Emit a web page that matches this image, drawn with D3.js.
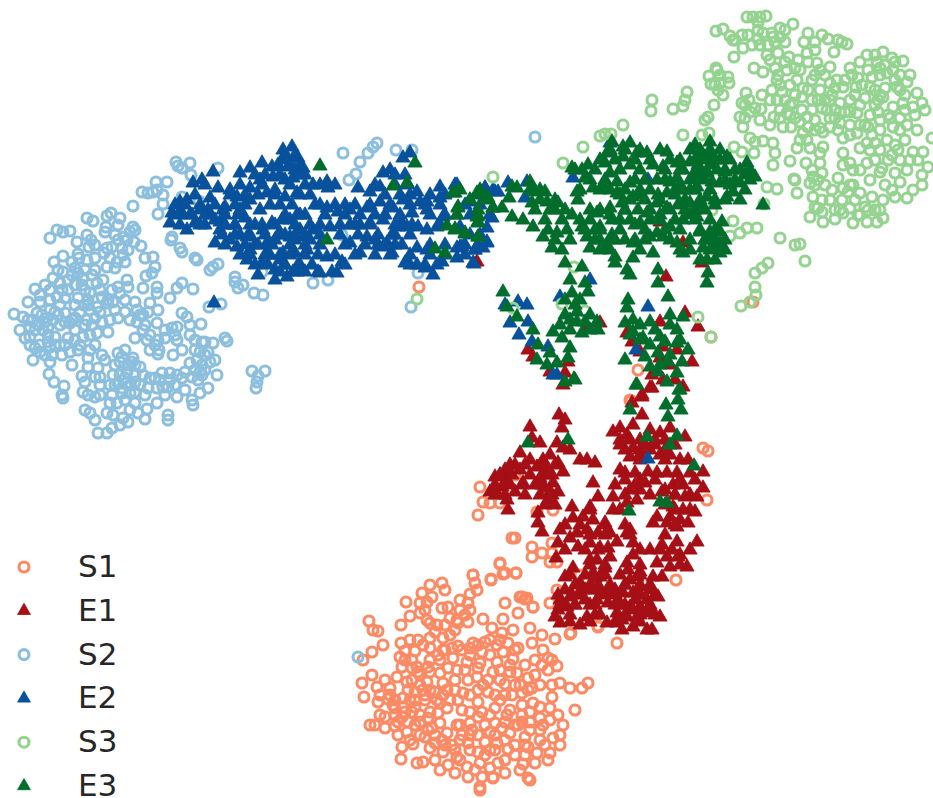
<!DOCTYPE html>
<html>
<head>
<meta charset="utf-8">
<script src="https://cdn.jsdelivr.net/npm/d3@7"></script>
<style>
  html, body { margin: 0; padding: 0; background: #fff; }
  svg { display: block; }
  text { font-family: "DejaVu Sans", sans-serif; }
</style>
</head>
<body>
<div id="main"></div>
<script>
// embedding positions
const s1 = [[473,575],[475,583],[477,590],[491,580],[500,564],[503,574],[516,573],[470,594],[468,603],[460,610],[445,590],[442,583],[430,585],[422,593],[427,602],[420,603],[406,602],[410,616],[401,625],[420,613],[427,620],[430,623],[442,608],[448,607],[450,618],[457,620],[468,622],[458,623],[483,619],[435,632],[430,638],[443,638],[450,635],[455,630],[369,621],[373,630],[378,631],[383,645],[372,652],[363,660],[401,643],[405,651],[415,651],[400,657],[423,645],[430,648],[438,655],[458,646],[473,643],[485,642],[497,645],[508,643],[518,648],[492,628],[502,633],[513,630],[530,628],[542,635],[555,639],[520,597],[525,599],[533,607],[518,613],[505,603],[503,619],[550,603],[570,634],[598,627],
[372,675],[362,683],[364,697],[377,687],[378,702],[390,688],[388,699],[397,677],[402,667],[407,682],[417,667],[428,667],[440,660],[453,658],[467,662],[480,663],[497,662],[513,659],[535,660],[548,658],[557,666],[543,650],[532,643],[517,673],[493,672],[477,677],[457,670],[440,673],[427,682],[415,692],[403,698],[455,680],[443,683],[435,692],[443,695],[463,693],[478,702],[488,692],[505,684],[528,678],[532,688],[548,670],[552,685],[560,683],[570,688],[582,688],[588,683],[552,697],[540,707],[522,693],[512,695],[495,708],[507,715],[522,705],[533,703],[550,708],[558,715],[575,710],[563,725],[543,725],[530,722],[522,715],[495,723],[478,717],[470,723],[460,725],[462,710],[447,708],[438,713],[440,723],[428,718],[415,707],[403,707],[402,717],[415,725],[407,732],[385,717],[375,725],[385,728],[395,726],[425,737],[435,743],[413,744],[402,747],[401,759],[417,763],[423,762],[430,748],[443,752],[447,733],[457,725],[468,743],[485,742],[497,743],[495,735],[510,733],[525,737],[540,740],[553,738],[508,749],[528,747],[537,753],[550,753],[535,763],[523,764],[528,778],[505,773],[498,763],[493,777],[480,763],[478,752],[455,750],[457,757],[448,765],[455,773],[468,777],[480,787],[467,767],[482,777],[493,778],[530,780],[480,790],
[412,660],[418,672],[408,690],[423,690],[410,700],[420,715],[408,722],[432,728],[442,740],[452,745],[462,735],[472,730],[485,725],[502,728],[515,725],[530,730],[470,655],[482,652],[490,655],[503,652],[478,668],[468,680],[483,685],[495,695],[510,672],[500,680],[520,685],[448,668],[430,660],[395,708],[395,715],[425,700],[440,703],[478,735],[490,750],[505,740],[515,755],[525,755],[475,770],[490,768],[545,745],[560,735],[470,712],[458,700],[518,725],[398,735],
[405,660],[412,668],[420,675],[430,672],[412,680],[420,685],[430,690],[415,700],[425,695],[405,712],[412,712],[420,722],[430,712],[437,700],[447,690],[450,700],[445,650],[452,648],[462,650],[470,648],[478,645],[490,640],[500,640],[515,650],[525,665],[510,665],[500,670],[488,680],[478,690],[470,695],[482,712],[490,715],[500,700],[510,710],[522,722],[530,712],[540,718],[550,720],[470,735],[460,740],[445,745],[435,735],[428,730],[420,735],[410,740],[435,760],[440,770],[460,760],[470,750],[485,755],[495,750],[505,760],[515,745],[520,770],[540,730],[560,745],[548,760],[525,745],[505,722],[490,732],[455,690],[465,670],[443,650],[437,625],[445,625],[460,600],[465,615],[470,610],[425,610],[432,597],[410,640],[418,640],[385,680],[390,695],[380,695],[393,705],[380,715],[370,725],[398,722],[395,700],[552,660],[542,665],[535,675],[540,685],[528,690],[515,685],[505,695],
[480,487],[483,502],[490,503],[500,503],[478,515],[515,475],[512,538],[515,538],[532,547],[532,557],[542,553],[552,543],[552,553],[550,562],[557,562],[500,563],[505,573],[516,573],[491,579],[473,575],[522,597],[527,598],[533,607],[557,590],[537,512],[553,510],[703,448],[708,451],[707,500],[676,580],[617,643],[598,626],[571,633],[638,370],[631,401],[580,575],[753,302],[711,337],[419,287],[630,400]];

const e1 = [[559,415],[565,420],[562,428],[530,427],[532,438],[540,443],[557,443],[570,450],[563,448],[520,453],[530,460],[515,465],[505,470],[495,477],[490,492],[502,487],[507,480],[515,492],[523,483],[507,500],[508,510],[550,455],[543,460],[537,467],[545,472],[558,463],[563,472],[542,485],[553,483],[550,492],[548,500],[558,492],[580,460],[587,460],[595,463],[593,483],[598,497],[538,513],[538,523],[542,532],
[613,432],[620,428],[627,435],[633,425],[642,415],[632,403],[642,397],[652,388],[660,433],[670,428],[685,437],[670,455],[633,448],[630,457],[648,472],[657,473],[625,473],[635,473],[645,483],[615,485],[630,490],[613,497],[613,510],[627,503],[637,500],[667,473],[677,473],[688,460],[703,472],[690,473],[683,485],[673,485],[662,492],[703,488],[697,497],[683,510],[695,512],[688,523],[673,507],[657,517],[653,523],[667,523],[677,527],[670,517],
[572,507],[573,518],[590,507],[583,517],[593,520],[605,523],[587,530],[598,533],[610,533],[560,530],[558,543],[570,538],[577,533],[578,547],[590,543],[617,542],[608,548],[556,558],[573,568],[565,577],[580,583],[597,560],[605,568],[593,573],[600,577],[610,557],[627,563],[633,555],[630,530],[627,533],[633,543],[650,550],[662,545],[677,542],[697,542],[690,550],[667,557],[678,557],[657,563],[670,567],[687,567],[653,577],[662,577],
[565,590],[558,595],[570,597],[558,610],[555,617],[567,607],[580,593],[587,617],[593,590],[597,600],[560,623],[580,625],[607,593],[608,603],[607,623],[618,600],[630,580],[637,577],[640,587],[623,593],[633,593],[647,600],[658,597],[660,617],[617,613],[627,617],[637,617],[647,613],[622,630],[633,627],[647,630],[652,630],[617,623],[630,607],[640,607],
[595,578],[585,590],[575,605],[590,605],[600,590],[615,590],[625,605],[635,600],[650,610],[640,595],[620,575],[628,570],[640,572],[650,590],[600,548],[590,560],[598,585],[572,595],[585,600],[600,615],[615,605],[625,585],[560,600],[633,610],[622,620],[500,475],[510,473],[495,490],[520,470],[540,478],[552,475],[545,488],[655,445],[645,445],[640,455],[620,445],[630,440],[650,430],[675,445],[680,460],[660,455],[665,490],[675,495],[685,497],[665,505],[680,520],[665,535],[680,555],[672,550],[640,490],[620,470],[650,495],[635,485],
[510,465],[525,465],[545,465],[555,465],[500,475],[512,475],[530,475],[548,475],[495,485],[510,485],[522,485],[535,485],[495,495],[505,495],[525,495],[540,495],[552,495],[545,505],[555,505],[620,440],[640,440],[655,440],[665,440],[625,450],[640,450],[650,450],[665,450],[640,460],[665,460],[625,480],[640,480],[655,480],[680,480],[695,480],[625,495],[675,495],[690,495],[590,510],[620,510],[675,510],[690,510],[565,525],[580,525],[605,525],[625,525],[675,525],[590,535],[605,535],[630,535],[565,550],[585,550],[598,550],[640,550],[660,550],[590,565],[605,565],[640,565],[680,565],[570,575],[585,575],[605,575],[640,575],[575,585],[590,585],[610,585],[625,585],[640,585],[650,585],[578,595],[600,595],[615,595],[640,595],[655,595],[560,605],[575,605],[595,605],[620,605],[650,605],[570,615],[595,615],[625,615],[640,615],[655,615],[570,622],[590,622],[615,622],[640,622],
[660,222],[666,277],[702,263],[683,243],[477,262],[632,342],[627,333],[660,322],[685,313],[698,327],[677,350],[692,362],[663,347],[528,350],[533,357],[550,372],[565,373],[563,385],[568,362],[587,327],[600,323],[663,380],[650,388],[642,395],[683,387],[675,380],[660,358],[640,352],[670,365],[652,375]];

const s2 = [[176,162],[178,166],[182,168],[190,163],[191,175],[218,168],[156,182],[167,182],[142,192],[148,193],[153,192],[157,190],[163,195],[133,206],[163,204],[158,214],[182,197],[199,201],
[87,218],[93,221],[107,216],[111,213],[120,218],[118,225],[106,227],[105,232],[133,227],[135,230],[124,237],[115,235],[134,242],[141,246],[128,250],[87,235],[77,242],[91,240],[89,247],[50,238],[57,230],[63,232],[70,231],
[107,248],[112,247],[104,253],[122,248],[123,255],[117,262],[125,262],[107,267],[95,258],[87,260],[78,254],[79,258],[72,262],[63,256],[54,262],[172,237],[171,240],[180,248],[182,252],[195,258],[197,260],[145,258],[153,257],[155,267],[152,273],[146,276],[143,288],
[58,270],[63,272],[53,278],[45,285],[35,289],[28,302],[60,283],[72,275],[78,273],[83,278],[92,275],[97,283],[82,285],[85,290],[90,293],[102,297],[40,302],[50,300],[57,297],[65,298],[108,300],[113,302],[118,287],[127,280],[128,287],[120,293],[157,287],[157,293],[170,298],[177,288],[182,283],[193,289],
[14,314],[23,317],[37,313],[33,320],[20,330],[30,327],[25,338],[30,337],[43,330],[48,327],[55,312],[65,313],[70,323],[55,337],[68,338],[53,320],[80,312],[90,310],[97,307],[107,303],[87,320],[92,325],[102,322],[110,320],[118,318],[108,332],[97,333],[83,337],[90,335],
[135,302],[137,310],[150,303],[158,310],[143,315],[148,312],[157,323],[137,322],[143,330],[135,338],[147,340],[158,340],[165,338],[172,328],[177,327],[182,313],[187,317],[190,325],[201,324],[177,340],[182,350],[173,355],[159,350],[158,354],
[80,345],[78,350],[90,350],[102,355],[35,348],[40,352],[50,347],[52,355],[62,355],[33,360],[50,362],[72,365],[88,367],[98,368],[82,376],[49,374],[54,382],[64,386],[62,395],[63,398],
[118,353],[122,357],[133,358],[132,362],[140,367],[127,372],[143,375],[113,375],[100,377],[95,377],[118,383],[127,383],[135,382],[122,393],[130,393],[135,403],[117,403],[110,403],[100,395],[95,397],[83,392],[88,395],[90,413],[107,413],[113,415],[123,418],[128,422],[145,419],[138,413],[147,409],[157,403],[168,415],[168,420],
[162,373],[170,373],[177,375],[163,387],[157,388],[148,388],[177,397],[168,387],[182,378],[192,377],[202,375],[217,375],[208,388],[200,393],[192,400],[193,405],[185,390],[190,363],[197,360],[200,352],[208,352],[202,342],[205,342],[213,343],[225,338],[227,341],[202,365],[200,372],
[252,371],[265,371],[258,376],[257,382],[256,388],[210,270],[213,267],[218,264],[209,307],[221,304],[235,277],[235,282],[238,288],[243,285],[254,293],[263,295],[98,433],[107,433],[112,428],[120,425],
[343,153],[360,162],[368,153],[373,147],[377,143],[396,150],[412,150],[356,174],[349,180],[262,272],[313,283],[328,280],[342,235],[418,273],[411,307],[535,137],[358,657],
[42,315],[47,318],[35,330],[48,335],[60,325],[75,330],[72,320],[60,305],[68,290],[78,298],[84,305],[120,375],[125,378],[130,385],[122,388],[115,385],[135,375],[128,365],[170,380],[155,378],[140,385],[198,380],[205,370],[195,350],[75,285],[88,300],[40,345],[48,342],
[50,310],[58,315],[65,322],[75,318],[45,322],[38,325],[28,320],[30,345],[45,355],[55,345],[65,345],[75,340],[85,325],[95,318],[100,312],[88,305],[75,305],[68,280],[75,268],[85,270],[95,270],[103,280],[112,290],[115,268],[110,258],[118,240],[127,240],[130,232],[95,245],[62,290],[50,290],[40,295],[125,300],[140,315],[145,325],[150,335],[165,330],[175,335],[190,335],[195,340],[205,355],[210,362],[195,370],[185,372],[215,360],[120,362],[125,350],[135,365],[115,365],[105,360],[110,385],[135,392],[125,400],[112,395],[150,378],[145,395],[165,395],[175,385],[160,380],[95,345],[88,358],[70,352],[60,345],[85,382],[100,385],[85,410],[95,420],[130,410],[155,345],[150,350],[100,290],[115,310],[125,312],[130,320]];

const e2 = [[193,183],[202,180],[213,172],[218,188],[210,198],[208,210],[180,202],[187,200],[172,213],[170,223],[182,213],[187,230],[195,223],[205,225],[215,220],[223,210],[230,190],[240,173],[250,168],[262,163],[272,167],[283,150],[292,147],[298,158],[282,160],[303,168],[288,167],[293,178],[273,177],[267,193],[250,188],[237,197],[250,200],[225,207],[245,218],[220,230],[215,243],[220,222],[237,247],[247,237],[263,230],[272,223],[282,220],[297,215],[285,197],[297,193],[313,185],[327,182],[328,188],[315,205],[327,208],[338,212],[350,210],[330,227],[313,230],[305,237],[290,237],[280,233],[267,243],[247,260],[262,263],[275,270],[287,277],[297,272],[283,253],[295,253],[307,250],[320,273],[327,257],[337,273],[342,262],[358,188],[370,192],[383,173],[390,170],[403,158],[410,153],[380,187],[417,192],[403,200],[393,208],[380,202],[367,208],[350,243],[360,253],[370,223],[367,237],[383,220],[387,243],[402,223],[412,213],[420,202],[427,202],[427,210],[440,187],[455,185],[440,198],[470,202],[485,188],[495,192],[487,228],[487,243],[475,250],[460,247],[457,258],[443,217],[437,227],[427,230],[418,227],[407,227],[398,227],[402,245],[417,248],[427,250],[405,263],[417,265],[425,268],[433,275],[442,262],[392,253],[383,247],[474,264],
[225,225],[240,235],[255,245],[270,255],[255,225],[240,210],[285,235],[300,230],[275,240],[290,220],[260,210],[270,205],[250,250],[258,275],[275,280],[285,265],[300,265],[200,210],[190,215],[210,215],[310,240],[350,225],[360,225],[375,240],[392,235],[285,180],[295,170],[260,180],[275,190],[235,225],[265,255],[295,240],[280,260],[305,215],[240,255],[230,240],
[285,155],[295,155],[278,165],[290,165],[300,165],[255,175],[265,175],[280,175],[300,175],[305,175],[395,175],[405,175],[205,185],[240,185],[262,185],[290,185],[305,185],[320,185],[335,185],[375,185],[395,185],[408,185],[195,195],[230,195],[245,195],[258,195],[275,195],[300,195],[310,195],[385,195],[400,195],[410,195],[430,195],[445,195],[175,205],[185,205],[200,205],[215,205],[235,205],[245,205],[280,205],[292,205],[320,205],[335,205],[345,205],[355,205],[370,205],[390,205],[410,205],[425,205],[440,205],[465,205],[480,205],[178,215],[192,215],[205,215],[225,215],[238,215],[285,215],[300,215],[325,215],[345,215],[360,215],[375,215],[385,215],[400,215],[430,215],[445,215],[470,215],[490,215],[180,225],[200,225],[225,225],[235,225],[250,225],[262,225],[275,225],[295,225],[310,225],[320,225],[340,225],[355,225],[370,225],[395,225],[412,225],[440,225],[222,235],[235,235],[250,235],[265,235],[278,235],[295,235],[305,235],[320,235],[340,235],[358,235],[378,235],[395,235],[410,235],[470,235],[480,235],[225,245],[245,245],[258,245],[272,245],[290,245],[305,245],[320,245],[345,245],[365,245],[378,245],[395,245],[430,245],[445,245],[465,245],[478,245],[250,255],[268,255],[280,255],[290,255],[305,255],[318,255],[335,255],[355,255],[375,255],[390,255],[410,255],[430,255],[445,255],[465,255],[255,265],[268,265],[285,265],[298,265],[312,265],[345,265],[410,265],[425,265],[437,265],[280,272],[293,272],[305,272],[318,272],[332,272],
[214,303],[527,305],[518,302],[505,305],[510,323],[528,322],[519,335],[532,342],[548,347],[557,375],[560,297],[590,280],[648,307],[636,350],[610,143],[573,178],[648,180],[707,172],[648,459],[553,375],
[485,188],[493,190],[498,192],[508,183],[527,182],[525,198],[470,200],[457,185],[460,227],[457,248],[462,247],[475,250],[483,248],[487,242],[492,218],[473,263]];

const s3 = [[747,17],[753,17],[760,17],[766,16],[716,31],[723,29],[730,36],[733,40],[742,35],[748,35],[743,48],[752,45],[758,30],[758,39],[763,33],[772,33],[773,37],[785,30],[793,24],[785,42],[780,37],[808,33],[822,35],[828,39],[804,42],[815,42],[834,52],[842,42],[847,44],[838,40],
[734,57],[754,68],[763,72],[767,55],[778,53],[789,57],[798,60],[807,53],[815,50],[817,63],[830,67],[820,70],[800,70],[778,75],[777,80],[787,70],[716,68],[709,76],[711,84],[720,83],[728,77],[729,83],[718,90],[723,95],[717,70],[687,92],[685,100],[683,106],[673,109],[652,100],[651,111],[714,105],[708,117],[705,120],
[746,93],[749,100],[742,103],[740,117],[745,118],[743,127],[755,108],[761,109],[772,90],[777,100],[774,117],[783,127],[791,127],[787,113],[793,103],[802,97],[812,100],[818,100],[827,110],[802,110],[807,117],[815,120],
[797,80],[812,80],[803,88],[830,83],[837,80],[843,87],[852,75],[856,87],[832,95],[840,103],[850,100],[860,62],[867,55],[877,62],[883,52],[892,58],[903,61],[872,77],[887,73],[893,70],[870,87],[883,97],[897,87],[907,82],[917,93],[922,103],[913,107],[903,103],[893,107],[878,100],[865,98],[857,113],[840,123],[830,127],[823,132],[803,133],[807,140],[810,148],[820,153],[823,147],
[843,138],[860,148],[857,133],[868,127],[880,120],[893,127],[907,125],[917,130],[932,138],[887,140],[875,143],[867,143],[888,160],[913,152],[923,152],[918,160],[928,167],[907,170],[895,173],[880,172],[867,163],[843,153],[850,163],[853,170],[843,165],
[820,163],[822,173],[813,177],[810,183],[795,180],[797,193],[813,197],[822,200],[818,208],[810,217],[823,222],[835,219],[843,213],[853,223],[853,185],[843,188],[832,190],[842,200],[860,193],[872,197],[865,207],[867,222],[877,222],[883,218],[883,200],[892,190],[907,198],[913,190],[922,185],[922,175],[895,197],
[773,143],[775,153],[773,165],[790,161],[806,163],[797,148],[750,138],[755,142],[763,141],[754,153],[734,147],[742,152],[702,135],[709,133],[683,135],[794,179],[777,189],[767,187],[712,210],[733,221],[730,236],[740,233],[747,228],[757,228],[780,238],[795,245],[800,244],[805,261],[755,273],[762,268],[768,263],[755,287],[756,295],[741,306],[750,302],[764,204],
[493,177],[583,147],[563,163],[600,136],[605,134],[611,134],[623,125],[513,308],[562,304],[585,311],[574,267],[698,317],[711,337],[417,299],
[790,85],[795,95],[782,92],[785,100],[808,90],[820,90],[825,100],[835,110],[845,112],[855,95],[862,85],[875,90],[880,75],[885,65],[895,80],[905,95],[888,115],[878,112],[870,115],[865,125],[850,125],[835,118],[820,128],[808,127],[795,118],[880,150],[895,145],[905,140],[892,155],[900,160],[815,185],[850,208],[860,215],[868,210],[875,210],[840,210],[848,192],[812,170],[818,180],[880,95],[900,118],[850,135],[790,115],[780,110],
[770,60],[775,68],[785,62],[795,68],[808,62],[815,75],[825,75],[835,88],[845,80],[850,68],[858,78],[868,70],[875,55],[880,68],[895,62],[900,75],[910,75],[900,90],[885,88],[875,105],[860,105],[850,112],[840,112],[830,100],[822,108],[812,110],[800,122],[790,105],[780,85],[770,100],[762,95],[760,120],[770,125],[780,118],[800,140],[815,130],[830,118],[838,130],[860,125],[872,135],[880,130],[890,118],[900,130],[870,150],[882,168],[875,160],[860,170],[850,185],[838,178],[825,185],[830,200],[835,210],[855,200],[870,180],[885,185],[900,182],[822,212],[815,207],[858,215],[880,210],[735,40],[760,45],[768,45],[775,42],[758,22],[780,28],[905,110],[915,115],[925,110],[910,160],[898,150],[745,105],[750,112],[720,75],[715,85]];

const e3 = [[455,193],[458,208],[457,215],[455,230],[465,233],[477,195],[488,198],[493,208],[477,217],[478,222],[478,237],[502,208],[512,187],[517,188],[509,198],[512,217],[523,220],[533,227],[530,182],[535,192],[532,203],[545,192],[547,202],[550,210],[558,203],[548,230],[543,237],[557,233],[562,220],[572,215],[567,230],[582,227],[552,248],[562,250],[565,263],[597,213],[600,227],[587,237],[590,248],[605,248],[612,235],[610,215],[615,257],[615,263],[625,240],[633,243],[633,258],[627,270],[630,275],
[572,168],[582,170],[588,165],[585,178],[577,192],[578,200],[593,188],[603,185],[607,153],[612,142],[605,163],[610,173],[623,147],[630,143],[623,157],[637,153],[647,153],[630,165],[667,152],[663,167],[653,165],[617,182],[630,183],[645,180],[657,180],[650,190],[617,193],[622,203],[633,197],[610,208],[620,220],[638,210],[640,223],[647,213],[657,203],[667,193],[677,163],[695,145],[710,142],[703,155],[727,157],[747,163],[755,177],[740,183],[733,192],[740,200],[727,197],[690,162],[683,170],[677,178],[693,175],[707,173],[717,170],[720,183],[707,197],[697,187],[683,190],[670,182],[690,203],[678,205],[667,208],[658,195],[670,227],[683,220],[697,217],[710,220],[722,222],[713,237],[720,243],[703,248],[707,260],[720,253],[683,253],[677,243],[663,237],[650,237],[657,233],[653,253],[658,270],[708,273],[707,283],[658,283],[668,297],[763,205],
[700,155],[712,155],[720,160],[698,165],[710,165],[725,172],[735,170],[745,175],[700,178],[712,182],[730,185],[690,190],[715,205],[700,205],[690,215],[700,232],[710,232],[720,232],[705,240],[715,247],[690,150],[680,185],[640,195],[625,210],[635,225],[645,240],[620,195],[600,190],[660,215],[675,195],
[610,150],[625,150],[640,150],[660,150],[700,150],[710,150],[720,150],[600,160],[615,160],[635,160],[650,160],[670,160],[680,160],[695,160],[705,160],[715,160],[730,160],[575,170],[595,170],[620,170],[640,170],[665,170],[680,170],[700,170],[725,170],[740,170],[750,170],[590,180],[605,180],[635,180],[665,180],[690,180],[705,180],[725,180],[735,180],[750,180],[580,190],[610,190],[625,190],[640,190],[675,190],[695,190],[710,190],[745,190],[630,200],[645,200],[660,200],[685,200],[700,200],[715,200],[725,200],[600,210],[625,210],[650,210],[670,210],[685,210],[695,210],[705,210],[612,220],[630,220],[650,220],[660,220],[675,220],[695,220],[600,230],[620,230],[645,230],[665,230],[680,230],[700,230],[715,230],[600,240],[615,240],[635,240],[670,240],[690,240],[705,240],[715,240],[725,240],[610,250],[640,250],[680,250],[690,250],[710,250],[725,250],[700,260],[715,260],
[460,190],[480,190],[530,190],[540,190],[470,200],[485,200],[540,200],[555,200],[535,210],[555,210],[565,210],[590,210],[545,220],[580,220],[590,220],[585,230],[595,230],[555,240],[570,240],[595,240],[610,240],[600,250],
[570,280],[572,293],[582,267],[585,283],[588,292],[577,312],[565,315],[570,330],[553,332],[562,338],[582,333],[597,322],[598,330],[577,322],[503,292],[507,307],[517,317],[533,330],[538,345],[570,348],[568,358],[550,353],[537,360],[547,365],[557,363],[565,382],[575,380],[628,300],[627,308],[633,320],[625,323],[633,332],[643,338],[650,322],[670,315],[683,317],[677,330],[660,337],[665,342],[677,343],[688,350],[658,353],[625,360],[645,357],[650,367],[668,362],[682,362],[658,372],[677,373],[667,382],[637,385],[680,390],
[565,300],[575,305],[580,300],[590,315],[570,320],[585,322],[560,325],[590,330],[640,325],[655,330],[670,325],[680,340],[650,345],[670,355],[660,365],[640,340],[630,335],
[320,166],[415,163],[393,186],[407,183],[327,240],[435,249],[445,253],[447,226],[455,229],[465,234],[478,237],[453,193],[458,207],[457,215],[477,193],[487,199],[478,210],[478,216],[478,223],[493,208],
[528,443],[568,440],[647,437],[677,436],[670,445],[694,466],[660,502],[667,503],[629,511],[636,385],[630,410],[666,405],[668,417],[681,410],[678,400],[679,390],[574,379]];

const seriesNames = ["S1", "E1", "S2", "E2", "S3", "E3"];
const seriesData = [s1, e1, s2, e2, s3, e3];
const seriesColor = ["#fc8a65", "#a50f15", "#8cbfdd", "#08519c", "#94d390", "#006d2c"];
// S* are open circles, E* are filled triangles
const seriesRing = [true, false, true, false, true, false];

const width = 933, height = 798;
const svg = d3.select("#main").append("svg")
    .attr("width", width)
    .attr("height", height);

const x = d3.scaleLinear().domain([0, 933]).range([0, width]);
const y = d3.scaleLinear().domain([0, 798]).range([0, height]);

const triangle = d3.symbol().type(d3.symbolTriangle).size(88)();
const legendTriangle = d3.symbol().type(d3.symbolTriangle).size(72)();

function drawMark(sel, i, tri) {
    if (seriesRing[i]) {
        sel.append("circle")
            .attr("r", 5)
            .attr("fill", "none")
            .attr("stroke", seriesColor[i])
            .attr("stroke-width", 3.1);
    } else {
        sel.append("path")
            .attr("d", tri)
            .attr("fill", seriesColor[i])
            .attr("stroke", seriesColor[i])
            .attr("stroke-width", 0.8);
    }
}

seriesData.forEach((pts, i) => {
    const marks = svg.append("g")
        .attr("class", "series-" + seriesNames[i])
        .selectAll("g")
        .data(pts)
        .enter().append("g")
        .attr("transform", d => "translate(" + x(d[0]) + "," + y(d[1]) + ")");
    drawMark(marks, i, triangle);
});

// legend
const legendY = d3.scalePoint().domain(seriesNames).range([567, 786]);
const legend = svg.append("g").attr("class", "legend");
seriesNames.forEach((name, i) => {
    const row = legend.append("g")
        .attr("transform", "translate(24," + legendY(name) + ")");
    drawMark(row, i, legendTriangle);
    row.append("text")
        .attr("x", 54)
        .attr("y", 10)
        .attr("font-size", 31)
        .attr("fill", "#262626")
        .text(name);
});
</script>
</body>
</html>
